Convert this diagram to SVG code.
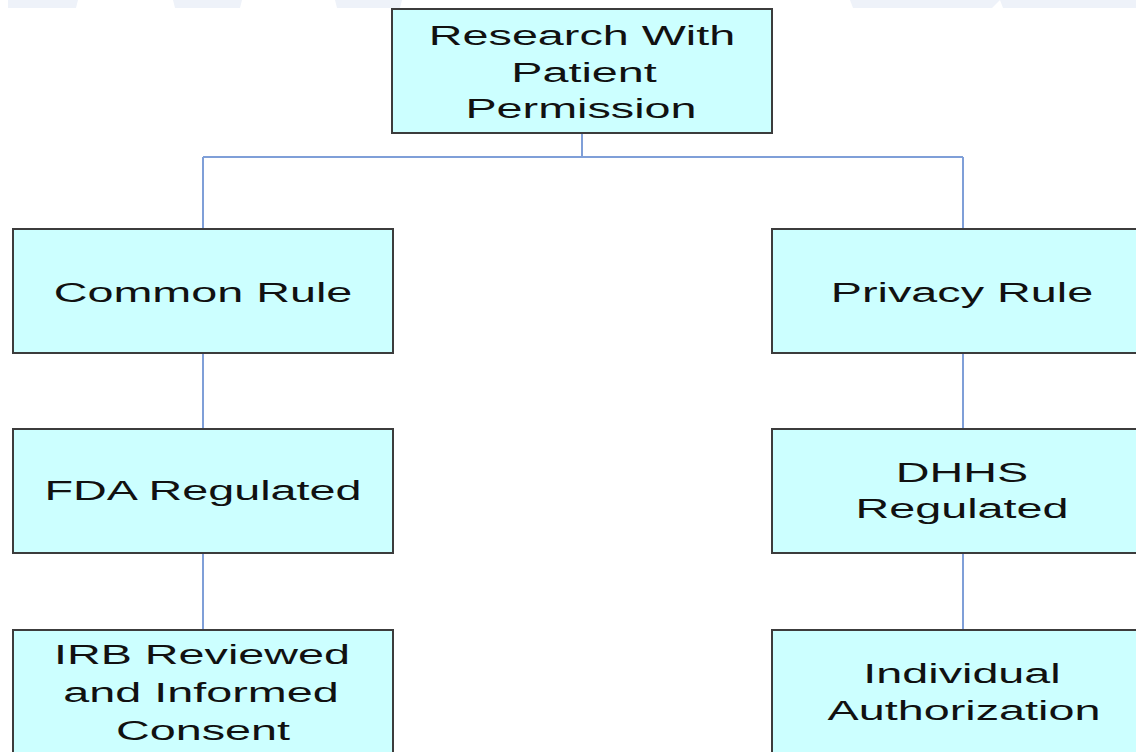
<svg xmlns="http://www.w3.org/2000/svg" width="1136" height="752" viewBox="0 0 1136 752">
<style>
.box{fill:#ccffff;stroke:#3c3c3c;stroke-width:2}
.t{font-family:"Liberation Sans",Arial,sans-serif;font-size:28px;fill:#111;text-anchor:middle}
.c{fill:none;stroke:#7f9fd8;stroke-width:2}
.bg{fill:#eef2f9}
</style>
<rect width="1136" height="752" fill="#ffffff"/>
<g id="background">
<polygon class="bg" points="8,0 78,0 76,8 8,8"/>
<polygon class="bg" points="173,0 242,0 240,8 175,8"/>
<polygon class="bg" points="335,0 402,0 400,8 337,8"/>
<polygon class="bg" points="850,0 1000,0 992,8 853,8"/>
<polygon class="bg" points="1000,0 1136,0 1136,8 1003,8"/>
</g>
<g id="connectors">
<path class="c" d="M582,133 V157 M203,157 H963 M203,157 V229 M963,157 V229 M203,353 V429 M963,353 V429 M203,553 V630 M963,553 V630"/>
</g>
<g id="root">
<rect class="box" x="392" y="9" width="380" height="124"/>
<text class="t" transform="translate(582 0) scale(1.67 1)" x="0" y="45">Research With</text>
<text class="t" transform="translate(584 0) scale(1.67 1)" x="0" y="82">Patient</text>
<text class="t" transform="translate(581 0) scale(1.67 1)" x="0" y="118">Permission</text>
</g>
<g id="common-rule">
<rect class="box" x="13" y="229" width="380" height="124"/>
<text class="t" transform="translate(203 0) scale(1.67 1)" x="0" y="302">Common Rule</text>
</g>
<g id="privacy-rule">
<rect class="box" x="772" y="229" width="380" height="124"/>
<text class="t" transform="translate(962 0) scale(1.67 1)" x="0" y="302">Privacy Rule</text>
</g>
<g id="fda-regulated">
<rect class="box" x="13" y="429" width="380" height="124"/>
<text class="t" transform="translate(203 0) scale(1.67 1)" x="0" y="500">FDA Regulated</text>
</g>
<g id="dhhs-regulated">
<rect class="box" x="772" y="429" width="380" height="124"/>
<text class="t" transform="translate(962 0) scale(1.67 1)" x="0" y="482">DHHS</text>
<text class="t" transform="translate(962 0) scale(1.67 1)" x="0" y="518">Regulated</text>
</g>
<g id="irb-consent">
<rect class="box" x="13" y="630" width="380" height="124"/>
<text class="t" transform="translate(202 0) scale(1.67 1)" x="0" y="664">IRB Reviewed</text>
<text class="t" transform="translate(201 0) scale(1.67 1)" x="0" y="702">and Informed</text>
<text class="t" transform="translate(203 0) scale(1.67 1)" x="0" y="740">Consent</text>
</g>
<g id="individual-authorization">
<rect class="box" x="772" y="630" width="380" height="124"/>
<text class="t" transform="translate(962 0) scale(1.67 1)" x="0" y="683">Individual</text>
<text class="t" transform="translate(964 0) scale(1.67 1)" x="0" y="720">Authorization</text>
</g>
</svg>
